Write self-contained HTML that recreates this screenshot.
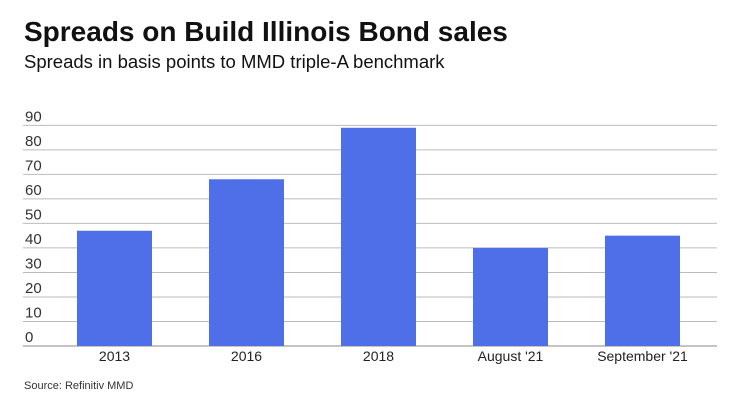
<!DOCTYPE html>
<html><head><meta charset="utf-8"><style>
body{margin:0;background:#fff;font-family:"Liberation Sans",sans-serif;}
#wrap{position:relative;width:740px;height:416px;overflow:hidden;}
.t{position:absolute;left:24px;top:16px;font-size:28px;font-weight:bold;color:#111;}
.s{position:absolute;left:24px;top:51px;font-size:18.5px;color:#111;}
.src{position:absolute;left:24px;top:380px;font-size:11px;color:#333;}
</style></head><body>
<div id="wrap">
<div class="t">Spreads on Build Illinois Bond sales</div>
<div class="s">Spreads in basis points to MMD triple-A benchmark</div>
<svg id="svg" width="740" height="416" style="position:absolute;left:0;top:0"></svg>
<div class="src">Source: Refinitiv MMD</div>
</div>
<script>
const categories=["2013","2016","2018","August '21","September '21"];
const values=[47,68,89,40,45];
const ticks=[0,10,20,30,40,50,60,70,80,90];
const svg=document.getElementById('svg');
const NS='http://www.w3.org/2000/svg';
const y0=346,pxPer=2.452,x0=23,x1=717,cx0=114.5,step=132,bw=75;
const y=v=>y0-v*pxPer;
const xc=i=>cx0+i*step;
ticks.forEach(t=>{
  const l=document.createElementNS(NS,'line');
  l.setAttribute('x1',x0);l.setAttribute('x2',x1);l.setAttribute('y1',y(t));l.setAttribute('y2',y(t));
  l.setAttribute('stroke',t===0?'#888':'#bbb');l.setAttribute('stroke-width','1');
  
  
  svg.appendChild(l);
  const tx=document.createElementNS(NS,'text');
  tx.setAttribute('x',25);tx.setAttribute('y',y(t)-4);tx.setAttribute('font-size','15');tx.setAttribute('fill','#333');
  tx.setAttribute('font-family','Liberation Sans, sans-serif');
  tx.textContent=t;
  
  
  svg.appendChild(tx);
});
categories.forEach((c,i)=>{
  const r=document.createElementNS(NS,'rect');
  r.setAttribute('x',xc(i)-bw/2);r.setAttribute('width',bw);
  r.setAttribute('y',y(values[i]));r.setAttribute('height',y0-y(values[i]));
  r.setAttribute('fill','#4f6fe8');
  
  
  svg.appendChild(r);
  const tx=document.createElementNS(NS,'text');
  tx.setAttribute('x',xc(i));tx.setAttribute('y',361);tx.setAttribute('text-anchor','middle');
  tx.setAttribute('font-size','14');tx.setAttribute('fill','#222');
  tx.setAttribute('font-family','Liberation Sans, sans-serif');
  tx.textContent=c;
  
  
  svg.appendChild(tx);
});
</script>
</body></html>
